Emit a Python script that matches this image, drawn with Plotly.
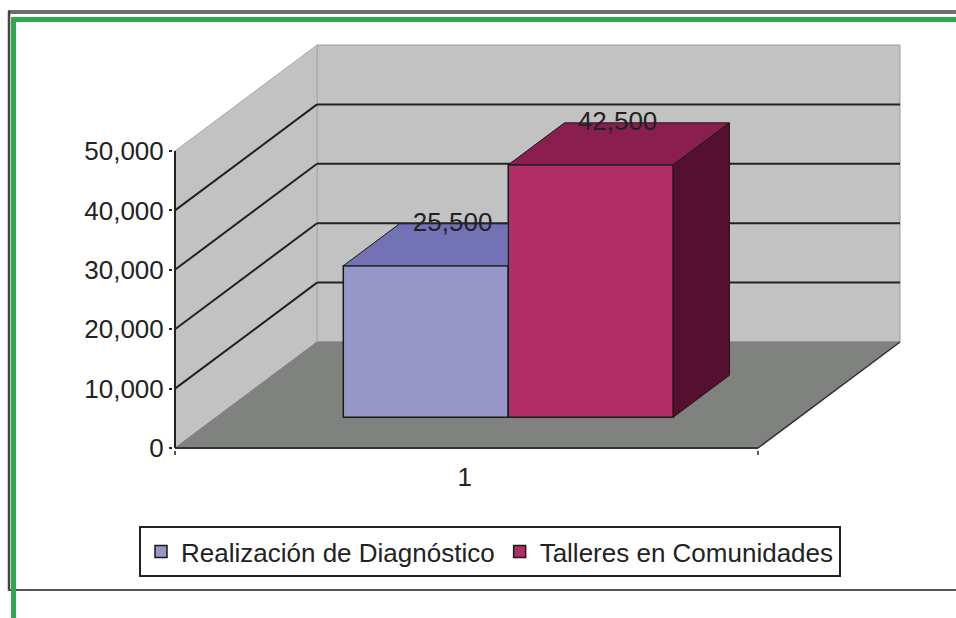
import plotly.graph_objects as go

# --- data ---
CATEGORIES = ["1"]
SERIES = ["Realización de Diagnóstico", "Talleres en Comunidades"]
VALUES = [25500, 42500]
Y_TICKS = [0, 10000, 20000, 30000, 40000, 50000]
FRONT_COLORS = ["#9796C9", "#B22E66"]
TOP_COLORS = ["#7372B4", "#8A1E4E"]
SIDE_COLORS = [None, "#550F2F"]

# --- oblique 3D projection, in axis units ---
DEPTH_X = 0.2436      # category-axis shift of the full floor depth
DEPTH_Y = 17845       # value-axis shift of the full floor depth
GAP = 0.218           # left gap before first bar
BAR_W = 0.283
F_FRONT, F_BACK = 0.29, 0.686
Y_MAX = Y_TICKS[-1]

# page layout, in pixels: origin of the chart, scales, and a small pad around it
X0_PX, Y0_PX = 175, 448
X_SCALE, Y_SCALE = 583, 297 / 50000
PAD = 2
X_RANGE = [-PAD / X_SCALE, 1 + DEPTH_X + PAD / X_SCALE]
Y_RANGE = [-PAD / Y_SCALE, Y_MAX + DEPTH_Y + PAD / Y_SCALE]
L, R = X0_PX - PAD, X0_PX + (1 + DEPTH_X) * X_SCALE + PAD
B, T = Y0_PX + PAD, Y0_PX - (Y_MAX + DEPTH_Y) * Y_SCALE - PAD
FONT = dict(family="Liberation Sans, Arial, sans-serif", size=26, color="#222222")


def px(x):
    return (x - L) / (R - L)


def py(y):
    return (B - y) / (B - T)


def proj(u, f, v):
    return u + f * DEPTH_X, v + f * DEPTH_Y


def poly(points, fill, line=None, width=1):
    xs, ys = zip(*points)
    path = "M" + "L".join(f"{a},{b}" for a, b in zip(xs, ys)) + "Z"
    return dict(type="path", path=path, xref="x", yref="y", layer="below",
                fillcolor=fill, line=dict(color=line or fill, width=width))


shapes = [
    # back wall, left wall, floor
    poly([proj(0, 1, 0), proj(1, 1, 0), proj(1, 1, Y_MAX), proj(0, 1, Y_MAX)], "#C2C2C2", "#9A9A9A", 1),
    poly([proj(0, 0, 0), proj(0, 1, 0), proj(0, 1, Y_MAX), proj(0, 0, Y_MAX)], "#C2C2C2", "#AAAAAA", 1),
    poly([proj(0, 0, 0), proj(1, 0, 0), proj(1, 1, 0), proj(0, 1, 0)], "#808280", "#808280", 1),
]
# gridlines along left wall and back wall
for v in Y_TICKS[1:-1]:
    a, b, c = proj(0, 0, v), proj(0, 1, v), proj(1, 1, v)
    shapes.append(dict(type="line", xref="x", yref="y", layer="below", x0=a[0], y0=a[1], x1=b[0], y1=b[1],
                       line=dict(color="#222222", width=2)))
    shapes.append(dict(type="line", xref="x", yref="y", layer="below", x0=b[0], y0=b[1], x1=c[0], y1=c[1],
                       line=dict(color="#222222", width=2)))
# floor front-right edge
a, b = proj(1, 0, 0), proj(1, 1, 0)
shapes.append(dict(type="line", xref="x", yref="y", layer="below", x0=a[0], y0=a[1], x1=b[0], y1=b[1],
                   line=dict(color="#333333", width=1.5)))

# page frame
frame = [
    (8, 12, 956, 12, "#6E6E6E", 4),
    (9, 11, 9, 591, "#444444", 2.5),
    (8, 590, 956, 590, "#555555", 2),
    (11, 19.5, 956, 19.5, "#2FA84B", 5),
    (13.5, 17, 13.5, 618, "#2FA84B", 5),
]
for x0, y0, x1, y1, c, w in frame:
    shapes.append(dict(type="line", xref="paper", yref="paper", x0=px(x0), y0=py(y0), x1=px(x1), y1=py(y1),
                       line=dict(color=c, width=w)))

fig = go.Figure()

for i, (name, val) in enumerate(zip(SERIES, VALUES)):
    u0, u1 = GAP + i * BAR_W, GAP + (i + 1) * BAR_W
    x0, base = proj(u0, F_FRONT, 0)
    x1, _ = proj(u1, F_FRONT, 0)
    fig.add_trace(go.Bar(x=[(x0 + x1) / 2], y=[val], base=[base], width=[BAR_W], name=name,
                         marker=dict(color=FRONT_COLORS[i], line=dict(color="#1A1A1A", width=1.5)),
                         hoverinfo="skip"))
    # top face; the first bar's back corner is hidden behind the next bar
    fl, fr, br, bl = (proj(u0, F_FRONT, val), proj(u1, F_FRONT, val),
                      proj(u1, F_BACK, val), proj(u0, F_BACK, val))
    if i < len(VALUES) - 1:
        top = [fl, fr, (fr[0], br[1]), bl, fl]
    else:
        top = [fl, fr, br, bl, fl]
    fig.add_trace(go.Scatter(x=[p[0] for p in top], y=[p[1] for p in top], mode="lines", fill="toself",
                             fillcolor=TOP_COLORS[i], line=dict(color="#1A1A1A", width=1),
                             showlegend=False, hoverinfo="skip"))
    if SIDE_COLORS[i]:
        bb = proj(u1, F_BACK, 0)
        fb = proj(u1, F_FRONT, 0)
        side = [fr, br, bb, fb, fr]
        fig.add_trace(go.Scatter(x=[p[0] for p in side], y=[p[1] for p in side], mode="lines", fill="toself",
                                 fillcolor=SIDE_COLORS[i], line=dict(color="#1A1A1A", width=1),
                                 showlegend=False, hoverinfo="skip"))

# data labels
for i, val in enumerate(VALUES):
    u0 = GAP + i * BAR_W
    cx, top = proj(u0 + BAR_W / 2, F_FRONT, val)
    fig.add_trace(go.Scatter(x=[cx + 0.046], y=[top + 6900], mode="text", text=[f"{val:,}"],
                             textposition="middle center", textfont=FONT, cliponaxis=False,
                             showlegend=False, hoverinfo="skip"))

# axis lines, spanning only the front plane
fig.add_trace(go.Scatter(x=[0, 0], y=[0, Y_MAX], mode="lines", line=dict(color="#222222", width=2),
                         cliponaxis=False, showlegend=False, hoverinfo="skip"))
fig.add_trace(go.Scatter(x=[0, 1], y=[0, 0], mode="lines", line=dict(color="#333333", width=2),
                         cliponaxis=False, showlegend=False, hoverinfo="skip"))

fig.update_layout(
    width=956, height=618,
    margin=dict(l=L, r=956 - R, t=T, b=618 - B),
    paper_bgcolor="white", plot_bgcolor="white",
    barmode="overlay", shapes=shapes, font=FONT,
    legend=dict(orientation="h", xref="container", yref="container", x=139 / 956, y=1 - 526 / 618,
                xanchor="left", yanchor="top", bgcolor="white", bordercolor="#222222", borderwidth=2,
                font=dict(family=FONT["family"], size=26, color="#222222"), itemwidth=30,
                tracegroupgap=0),
    xaxis=dict(range=X_RANGE, tickmode="array", tickvals=[0.497], ticktext=CATEGORIES, ticks="",
               showgrid=False, zeroline=False, showline=False, tickfont=FONT, ticklabelstandoff=9,
               minor=dict(tickmode="array", tickvals=[0, 1], ticks="outside", ticklen=4,
                          tickcolor="#555555", tickwidth=1.5, showgrid=False)),
    yaxis=dict(range=Y_RANGE, tickmode="array", tickvals=Y_TICKS, tickformat=",", ticks="outside",
               ticklen=3, tickcolor="#222222", tickwidth=1.5, showgrid=False, zeroline=False,
               showline=False, tickfont=FONT, ticklabelstandoff=0),
)

fig.write_html("out.html", config=dict(displayModeBar=False),
               post_script="document.body.style.margin='0';")
